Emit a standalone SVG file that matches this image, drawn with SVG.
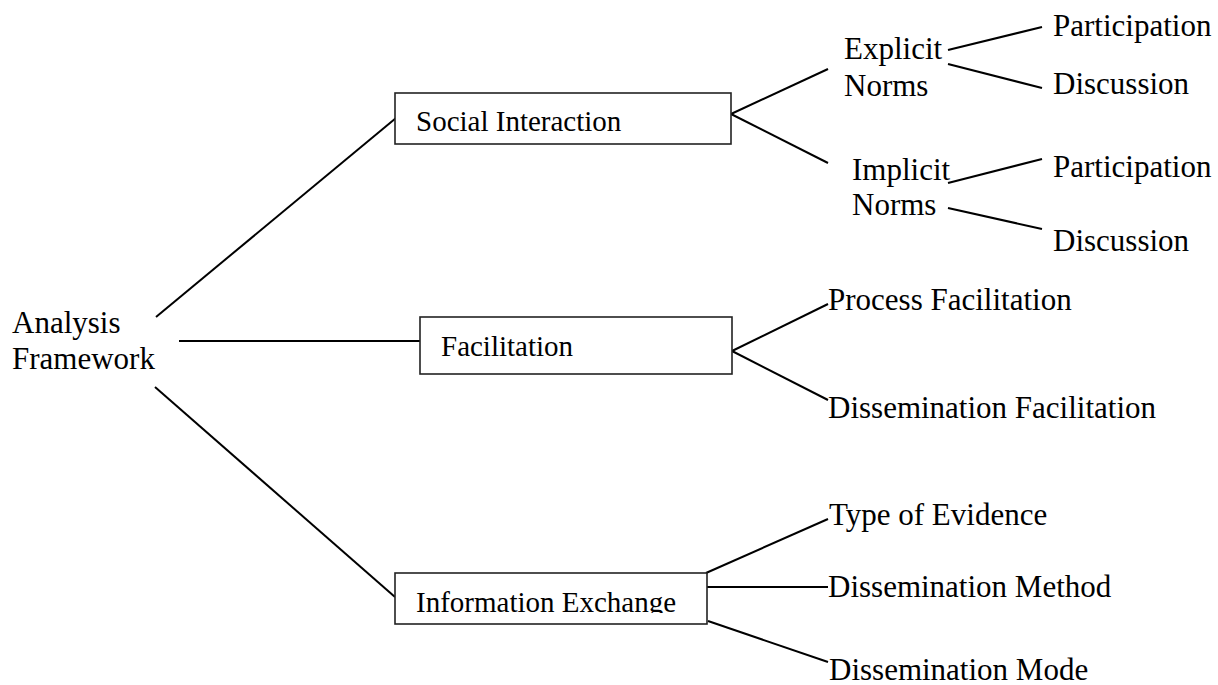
<svg xmlns="http://www.w3.org/2000/svg" width="1218" height="685" viewBox="0 0 1218 685">
<defs>
<style>
.lbl{font-family:"Liberation Serif","Times New Roman",serif;font-size:31px;fill:#000}
.btxt{font-family:"Liberation Serif","Times New Roman",serif;font-size:29px;fill:#000}
.box{fill:#fff;stroke:#222;stroke-width:1.6}
.ln{stroke:#000;stroke-width:2;fill:none}
</style>
<clipPath id="clipIE"><rect x="395" y="573" width="312" height="40"/></clipPath>
</defs>
<rect width="1218" height="685" fill="#fff"/>
<g id="connectors">
<line class="ln" x1="156" y1="317" x2="396" y2="118"/>
<line class="ln" x1="179" y1="341" x2="420" y2="341"/>
<line class="ln" x1="155" y1="387" x2="395" y2="597"/>
<line class="ln" x1="731" y1="114" x2="828" y2="69"/>
<line class="ln" x1="731" y1="114" x2="828" y2="163"/>
<line class="ln" x1="948" y1="50" x2="1042" y2="27"/>
<line class="ln" x1="948" y1="64" x2="1042" y2="88"/>
<line class="ln" x1="948" y1="183" x2="1042" y2="159"/>
<line class="ln" x1="948" y1="208" x2="1042" y2="229"/>
<line class="ln" x1="732" y1="351" x2="828" y2="304"/>
<line class="ln" x1="732" y1="351" x2="828" y2="400"/>
<line class="ln" x1="706" y1="573" x2="828" y2="519"/>
<line class="ln" x1="707" y1="587" x2="828" y2="587"/>
<line class="ln" x1="708" y1="621" x2="828" y2="662"/>
</g>
<g id="analysis-framework">
<text class="lbl" x="12" y="333">Analysis</text>
<text class="lbl" x="12" y="369">Framework</text>
</g>
<g id="social-interaction">
<rect class="box" x="395" y="93" width="336" height="51"/>
<text class="btxt" x="416" y="131">Social Interaction</text>
</g>
<g id="facilitation">
<rect class="box" x="420" y="317" width="312" height="57"/>
<text class="btxt" x="441" y="356">Facilitation</text>
</g>
<g id="information-exchange">
<rect class="box" x="395" y="573" width="312" height="51"/>
<text class="btxt" x="416" y="612" clip-path="url(#clipIE)">Information Exchange</text>
</g>
<g id="explicit-norms">
<text class="lbl" x="844" y="59">Explicit</text>
<text class="lbl" x="844" y="96">Norms</text>
</g>
<g id="implicit-norms">
<text class="lbl" x="852" y="180">Implicit</text>
<text class="lbl" x="852" y="215">Norms</text>
</g>
<g id="participation-1"><text class="lbl" x="1053" y="36">Participation</text></g>
<g id="discussion-1"><text class="lbl" x="1053" y="94">Discussion</text></g>
<g id="participation-2"><text class="lbl" x="1053" y="177">Participation</text></g>
<g id="discussion-2"><text class="lbl" x="1053" y="251">Discussion</text></g>
<g id="process-facilitation"><text class="lbl" x="828" y="310">Process Facilitation</text></g>
<g id="dissemination-facilitation"><text class="lbl" x="828" y="418">Dissemination Facilitation</text></g>
<g id="type-of-evidence"><text class="lbl" x="829" y="525">Type of Evidence</text></g>
<g id="dissemination-method"><text class="lbl" x="828" y="597">Dissemination Method</text></g>
<g id="dissemination-mode"><text class="lbl" x="829" y="680">Dissemination Mode</text></g>
</svg>
